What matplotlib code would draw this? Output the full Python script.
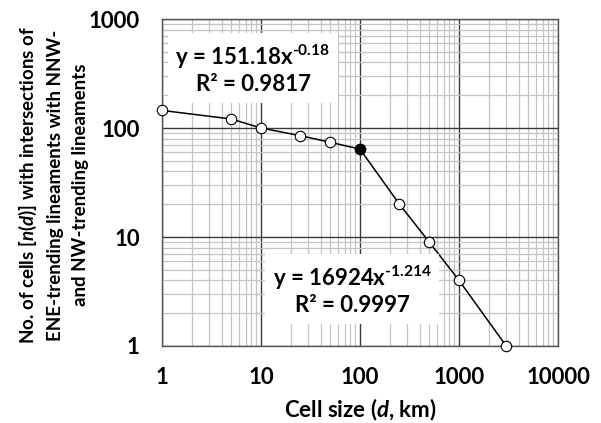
import matplotlib
matplotlib.use("Agg")
import matplotlib.pyplot as plt
from matplotlib.ticker import LogLocator, NullFormatter, FixedLocator

cell_size = [1, 5, 10, 25, 50, 100, 250, 500, 1000, 3000]
n_cells = [145, 121, 100, 85, 74, 64, 20, 9, 4, 1]
filled_index = 5
x_ticks = [1, 10, 100, 1000, 10000]
x_tick_labels = ["1", "10", "100", "1000", "10000"]
y_ticks = [1, 10, 100, 1000]
y_tick_labels = ["1", "10", "100", "1000"]
eq1 = ("y = 151.18x$^{\\text{-0.18}}$", "R² = 0.9817")
eq2 = ("y = 16924x$^{\\text{-1.214}}$", "R² = 0.9997")
xlabel = "Cell size ($\\mathit{d}$, km)"
ylabel = ("No. of cells [$\\mathit{n}$($\\mathit{d}$)] with intersections of\n"
          "ENE-trending lineaments with NNW-\nand NW-trending lineaments")

plt.rcParams['font.family'] = ['Lato', 'DejaVu Sans']
plt.rcParams['font.weight'] = 'bold'
plt.rcParams['mathtext.fontset'] = 'custom'
plt.rcParams['mathtext.rm'] = 'Lato:bold'
plt.rcParams['mathtext.bf'] = 'Lato:bold'
plt.rcParams['mathtext.it'] = 'Lato:bold:italic'
plt.rcParams['mathtext.default'] = 'rm'

fig = plt.figure(figsize=(6.01, 4.23), dpi=100)
ax = fig.add_axes([162/601, 1-346/423, (558-162)/601, (346-19)/423])
ax.set_xscale('log')
ax.set_yscale('log')
ax.set_xlim(1, 10000)
ax.set_ylim(1, 1000)

ax.xaxis.set_major_locator(FixedLocator(x_ticks))
ax.yaxis.set_major_locator(FixedLocator(y_ticks))
ax.set_xticklabels(x_tick_labels)
ax.set_yticklabels(y_tick_labels)
ax.xaxis.set_minor_locator(LogLocator(base=10, subs=range(2, 10), numticks=20))
ax.yaxis.set_minor_locator(LogLocator(base=10, subs=range(2, 10), numticks=20))
ax.xaxis.set_minor_formatter(NullFormatter())
ax.yaxis.set_minor_formatter(NullFormatter())
ax.tick_params(which='both', length=0)
ax.tick_params(axis='x', which='major', pad=15, labelsize=16)
ax.tick_params(axis='y', which='major', pad=16, labelsize=16)

ax.grid(True, which='minor', color='#c4c4c4', lw=0.9)
ax.grid(True, which='major', color='#3a3a3a', lw=1.0)
ax.set_axisbelow(True)
for s in ax.spines.values():
    s.set_color('#555555')
    s.set_linewidth(1.0)

ax.plot(cell_size, n_cells, color='black', lw=1.1, zorder=3)
open_x = [x for i, x in enumerate(cell_size) if i != filled_index]
open_y = [y for i, y in enumerate(n_cells) if i != filled_index]
ax.plot(open_x, open_y, 'o', ms=7.5, mfc='white', mec='black', mew=0.8,
        zorder=4, clip_on=False)
ax.plot([cell_size[filled_index]], [n_cells[filled_index]], 'o', ms=7.5,
        mfc='black', mec='black', zorder=4, clip_on=False)

bbox = dict(boxstyle='square,pad=0.35', fc='white', ec='none')
fig.text(253/601, 1-69/423, eq1[0] + "\n" + eq1[1], ha='center', va='center',
         fontsize=16, fontweight='bold', linespacing=1.2, bbox=bbox, zorder=5)
fig.text(352/601, 1-290/423, eq2[0] + "\n" + eq2[1], ha='center', va='center',
         fontsize=16, fontweight='bold', linespacing=1.2, bbox=bbox, zorder=5)

fig.text(360/601, 1-410/423, xlabel, ha='center', va='center',
         fontsize=16, fontweight='bold')
fig.text(53/601, 1-185/423, ylabel, ha='center', va='center', rotation=90,
         fontsize=13.5, fontweight='bold', linespacing=1.55, multialignment='center')

fig.savefig('out.png', dpi=100)
